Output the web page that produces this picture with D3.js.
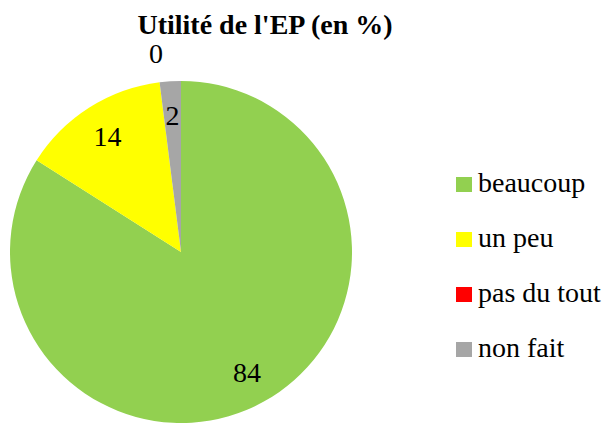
<!DOCTYPE html>
<html>
<head>
  <meta charset="utf-8">
  <script src="https://d3js.org/d3.v7.min.js"></script>
</head>
<body style="margin:0">
  <svg width="609" height="424"></svg>
  <script>
    // Chart data
    const categories = ["beaucoup", "un peu", "pas du tout", "non fait"];
    const values = [84, 14, 0, 2];
    const colors = ["#92D050", "#FFFF00", "#FF0000", "#A6A6A6"];
    const title = "Utilité de l'EP (en %)";

    const serif = "'Liberation Serif', 'Times New Roman', serif";
    const svg = d3.select("svg");
    const cx = 181, cy = 252, radius = 171;

    svg.append("text")
      .attr("x", 265).attr("y", 34)
      .attr("text-anchor", "middle")
      .style("font-family", serif, "important")
      .style("font-size", "28px").style("font-weight", "bold")
      .text(title);

    const pie = d3.pie().sort(null).value(d => d);
    const arcs = pie(values);
    const arc = d3.arc().innerRadius(0).outerRadius(radius);

    const g = svg.append("g").attr("transform", `translate(${cx},${cy})`);

    g.selectAll("path.slice")
      .data(arcs)
      .join("path")
      .attr("class", "slice")
      .attr("d", arc)
      .attr("fill", (d, i) => colors[i]);

    // labels inside slices; empty slices get their label outside the pie
    const labelArc = d3.arc().innerRadius(137).outerRadius(137);
    const outArc = d3.arc().innerRadius(200).outerRadius(200);
    g.selectAll("text.lbl")
      .data(arcs)
      .join("text")
      .attr("class", "lbl")
      .attr("transform", d => `translate(${(d.value > 0 ? labelArc : outArc).centroid(d)})`)
      .attr("text-anchor", "middle")
      .attr("dy", "0.35em")
      .style("font-family", serif, "important")
      .style("font-size", "28px")
      .text(d => d.value);

    // legend
    const legend = svg.append("g").attr("transform", "translate(456,0)");
    const item = legend.selectAll("g.item")
      .data(categories)
      .join("g")
      .attr("class", "item")
      .attr("transform", (d, i) => `translate(0,${192 + i * 55})`);
    item.append("rect")
      .attr("x", 0).attr("y", -15)
      .attr("width", 16).attr("height", 15)
      .attr("fill", (d, i) => colors[i]);
    item.append("text")
      .attr("x", 22).attr("y", 0)
      .style("font-family", serif, "important")
      .style("font-size", "28px")
      .text(d => d);
  </script>
</body>
</html>
